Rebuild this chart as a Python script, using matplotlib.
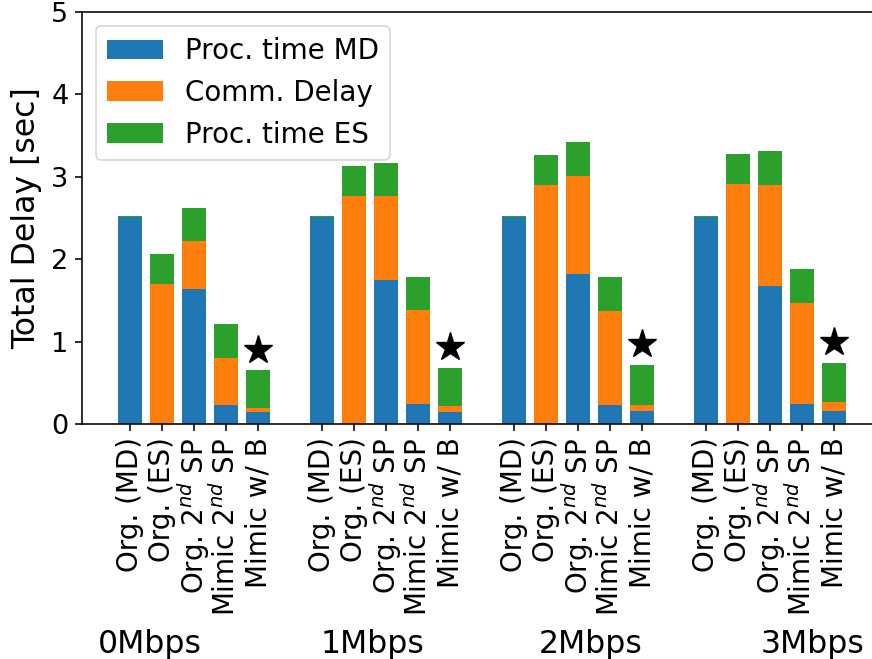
import matplotlib
matplotlib.use("Agg")
import matplotlib.pyplot as plt
import numpy as np

bar_labels = ['Org. (MD)', 'Org. (ES)', 'Org. 2$^{nd}$ SP', 'Mimic 2$^{nd}$ SP', 'Mimic w/ B']
groups = ['0Mbps', '1Mbps', '2Mbps', '3Mbps']

proc_md = [2.51, 0.0, 1.64, 0.23, 0.146,
           2.51, 0.0, 1.75, 0.243, 0.146,
           2.51, 0.0, 1.823, 0.231, 0.158,
           2.51, 0.0, 1.677, 0.243, 0.158]
comm_delay = [0.0, 1.70, 0.585, 0.57, 0.048,
              0.0, 2.77, 1.02, 1.142, 0.073,
              0.0, 2.904, 1.187, 1.142, 0.073,
              0.0, 2.916, 1.227, 1.227, 0.109]
proc_es = [0.015, 0.365, 0.40, 0.415, 0.46,
           0.015, 0.365, 0.40, 0.40, 0.461,
           0.015, 0.366, 0.417, 0.413, 0.486,
           0.015, 0.364, 0.413, 0.413, 0.474]
star_offset = 0.25

plt.rcParams['axes.linewidth'] = 1.15
plt.rcParams['xtick.major.width'] = 1.15
plt.rcParams['ytick.major.width'] = 1.15
plt.rcParams['xtick.major.size'] = 4.7
plt.rcParams['ytick.major.size'] = 4.7
plt.rcParams['xtick.major.pad'] = 5
plt.rcParams['ytick.major.pad'] = 5

W, H = 872, 659
fig = plt.figure(figsize=(W / 100, H / 100), dpi=100)
ax = fig.add_axes([82 / W, (H - 424) / H, 800 / W, 412 / H])

n = len(bar_labels)
x = np.array([g * (n + 1) + i for g in range(len(groups)) for i in range(n)], dtype=float)
md = np.array(proc_md)
cd = np.array(comm_delay)
es = np.array(proc_es)

ax.bar(x, md, width=0.72, color='#1f77b4', label='Proc. time MD')
ax.bar(x, cd, width=0.72, bottom=md, color='#ff7f0e', label='Comm. Delay')
ax.bar(x, es, width=0.72, bottom=md + cd, color='#2ca02c', label='Proc. time ES')

star_idx = [g * n + n - 1 for g in range(len(groups))]
totals = md + cd + es
ax.plot(x[star_idx], totals[star_idx] + star_offset, linestyle='none',
        marker='*', color='black', markersize=21)

ax.set_xlim(-1.5, 23.5)
ax.set_ylim(0, 5)
ax.set_yticks([0, 1, 2, 3, 4, 5])
ax.tick_params(axis='y', labelsize=19.5)
ax.set_xticks(x)
ax.set_xticklabels(bar_labels * len(groups), rotation=90, fontsize=20)
ax.set_ylabel('Total Delay [sec]', fontsize=22.7, labelpad=6.5)
ax.spines['right'].set_visible(False)

leg = ax.legend(loc='upper left', fontsize=20)
leg.get_frame().set_linewidth(1.15)

centers = [150, 372, 591, 812]
for c, g in zip(centers, groups):
    fig.text(c / W, 6 / H, g, ha='center', va='baseline', fontsize=22.7)

fig.savefig('out.png', dpi=100)
